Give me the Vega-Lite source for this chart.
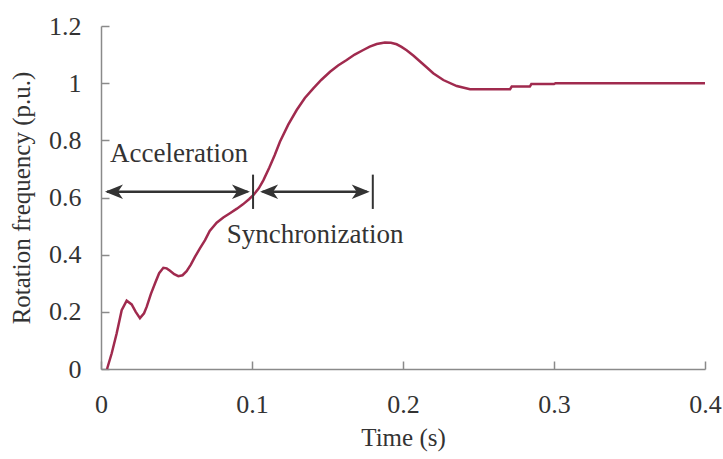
{
  "$schema": "https://vega.github.io/schema/vega-lite/v6.json",
  "autosize": {"type": "none"},
  "width": 604,
  "height": 343,
  "padding": {"left": 101, "top": 26, "right": 18, "bottom": 90},
  "background": "white",
  "config": {
    "view": {"stroke": null},
    "font": "Liberation Serif",
    "axis": {
      "grid": false,
      "domainColor": "#8a8a8a",
      "domainWidth": 1.5,
      "tickColor": "#8a8a8a",
      "tickWidth": 1.5,
      "tickSize": -8,
      "labelFlush": false,
      "labelFont": "Liberation Serif",
      "labelFontSize": 26,
      "labelColor": "#333333",
      "titleFont": "Liberation Serif",
      "titleFontSize": 25,
      "titleFontWeight": "normal",
      "titleColor": "#333333"
    }
  },
  "datasets": {
    "curve": [
      {"t": 0.004, "v": 0},
      {"t": 0.0071, "v": 0.055},
      {"t": 0.0104, "v": 0.125},
      {"t": 0.0137, "v": 0.206},
      {"t": 0.017, "v": 0.239},
      {"t": 0.0203, "v": 0.226},
      {"t": 0.023, "v": 0.2},
      {"t": 0.0258, "v": 0.178},
      {"t": 0.0285, "v": 0.195},
      {"t": 0.0303, "v": 0.218},
      {"t": 0.033, "v": 0.262},
      {"t": 0.0358, "v": 0.3},
      {"t": 0.0385, "v": 0.335},
      {"t": 0.0413, "v": 0.354},
      {"t": 0.0435, "v": 0.352},
      {"t": 0.0457, "v": 0.344},
      {"t": 0.0485, "v": 0.332},
      {"t": 0.0512, "v": 0.325},
      {"t": 0.054, "v": 0.328},
      {"t": 0.0567, "v": 0.342},
      {"t": 0.0595, "v": 0.365},
      {"t": 0.0623, "v": 0.393},
      {"t": 0.0655, "v": 0.422},
      {"t": 0.0689, "v": 0.451},
      {"t": 0.072, "v": 0.483},
      {"t": 0.0766, "v": 0.512},
      {"t": 0.081, "v": 0.53},
      {"t": 0.0854, "v": 0.545},
      {"t": 0.09, "v": 0.561},
      {"t": 0.094, "v": 0.576},
      {"t": 0.098, "v": 0.594},
      {"t": 0.101, "v": 0.609},
      {"t": 0.1045, "v": 0.632},
      {"t": 0.1075, "v": 0.66},
      {"t": 0.1115, "v": 0.705},
      {"t": 0.115, "v": 0.748},
      {"t": 0.1185, "v": 0.795},
      {"t": 0.124, "v": 0.855},
      {"t": 0.1296, "v": 0.906},
      {"t": 0.135, "v": 0.948},
      {"t": 0.1406, "v": 0.982},
      {"t": 0.146, "v": 1.012},
      {"t": 0.1517, "v": 1.04},
      {"t": 0.157, "v": 1.062},
      {"t": 0.1627, "v": 1.081},
      {"t": 0.168, "v": 1.1},
      {"t": 0.1737, "v": 1.116},
      {"t": 0.178, "v": 1.128},
      {"t": 0.1826, "v": 1.137},
      {"t": 0.188, "v": 1.142},
      {"t": 0.192, "v": 1.141},
      {"t": 0.1958, "v": 1.136},
      {"t": 0.199, "v": 1.127},
      {"t": 0.2024, "v": 1.115},
      {"t": 0.207, "v": 1.096},
      {"t": 0.2113, "v": 1.076},
      {"t": 0.216, "v": 1.054},
      {"t": 0.22, "v": 1.035},
      {"t": 0.2267, "v": 1.011},
      {"t": 0.2356, "v": 0.99},
      {"t": 0.2444, "v": 0.979},
      {"t": 0.2709, "v": 0.979},
      {"t": 0.272, "v": 0.988},
      {"t": 0.284, "v": 0.988},
      {"t": 0.285, "v": 0.997},
      {"t": 0.3, "v": 0.997},
      {"t": 0.301, "v": 1.0},
      {"t": 0.4, "v": 1.0}
    ],
    "hlines": [
      {"t1": 0.004, "t2": 0.097, "v": 0.62},
      {"t1": 0.107, "t2": 0.176, "v": 0.62}
    ],
    "vbars": [
      {"t": 0.1007, "v1": 0.56, "v2": 0.68},
      {"t": 0.18, "v1": 0.56, "v2": 0.68}
    ],
    "heads": [
      {"t": 0.0086, "v": 0.62, "dir": "left"},
      {"t": 0.0927, "v": 0.62, "dir": "right"},
      {"t": 0.1113, "v": 0.62, "dir": "left"},
      {"t": 0.172, "v": 0.62, "dir": "right"}
    ],
    "labels": [
      {"label": "Acceleration", "t": 0.006, "v": 0.724},
      {"label": "Synchronization", "t": 0.0832, "v": 0.441}
    ]
  },
  "layer": [
    {
      "data": {"name": "curve"},
      "mark": {"type": "line", "color": "#a02a4e", "strokeWidth": 2.5, "clip": false},
      "encoding": {
        "x": {"field": "t", "type": "quantitative", "scale": {"domain": [0, 0.4], "nice": false, "zero": false},
          "axis": {"title": "Time (s)", "values": [0, 0.1, 0.2, 0.3, 0.4], "format": "~g", "labelPadding": 30, "titlePadding": 8}},
        "y": {"field": "v", "type": "quantitative", "scale": {"domain": [0, 1.2], "nice": false},
          "axis": {"title": "Rotation frequency (p.u.)", "values": [0, 0.2, 0.4, 0.6, 0.8, 1, 1.2], "format": "~g", "labelPadding": 28, "titlePadding": 14}}
      }
    },
    {
      "data": {"name": "hlines"},
      "mark": {"type": "rule", "color": "#333333", "strokeWidth": 2.5},
      "encoding": {
        "x": {"field": "t1", "type": "quantitative"},
        "x2": {"field": "t2"},
        "y": {"field": "v", "type": "quantitative"}
      }
    },
    {
      "data": {"name": "vbars"},
      "mark": {"type": "rule", "color": "#333333", "strokeWidth": 2},
      "encoding": {
        "x": {"field": "t", "type": "quantitative"},
        "y": {"field": "v1", "type": "quantitative"},
        "y2": {"field": "v2"}
      }
    },
    {
      "data": {"name": "heads"},
      "mark": {"type": "point", "filled": true, "color": "#333333", "opacity": 1, "size": 324},
      "encoding": {
        "x": {"field": "t", "type": "quantitative"},
        "y": {"field": "v", "type": "quantitative"},
        "shape": {"field": "dir", "type": "nominal", "legend": null,
          "scale": {"domain": ["left", "right"], "range": ["M -1 0 L 1 -0.8 L 0.45 0 L 1 0.8 Z", "M 1 0 L -1 -0.8 L -0.45 0 L -1 0.8 Z"]}}
      }
    },
    {
      "data": {"name": "labels"},
      "mark": {"type": "text", "align": "left", "baseline": "alphabetic", "font": "Liberation Serif", "fontSize": 27, "color": "#333333"},
      "encoding": {
        "x": {"field": "t", "type": "quantitative"},
        "y": {"field": "v", "type": "quantitative"},
        "text": {"field": "label"}
      }
    }
  ]
}
